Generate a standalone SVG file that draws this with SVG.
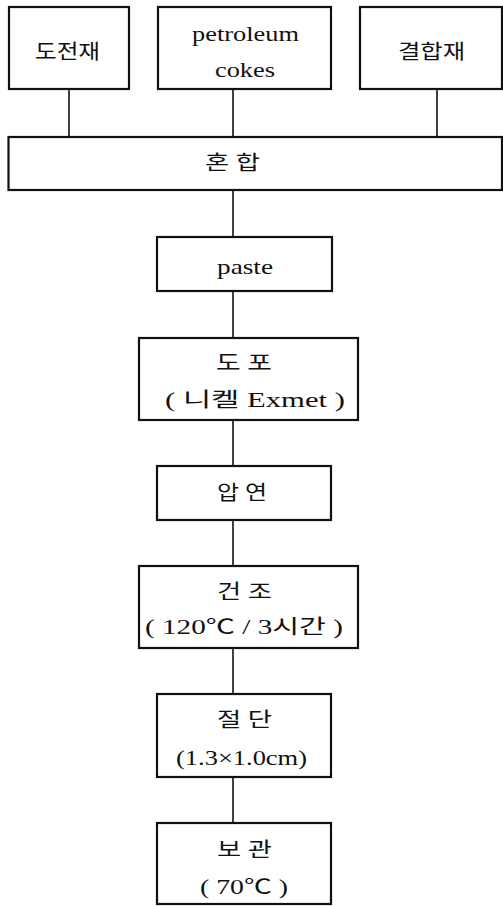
<svg xmlns="http://www.w3.org/2000/svg" width="503" height="906" viewBox="0 0 503 906">
  <style>
    .box { fill: #fff; stroke: #111; stroke-width: 2.2; }
    .wire { fill: none; stroke: #111; stroke-width: 1.6; }
    text { font-family: "Liberation Serif", "Noto Sans CJK KR", serif; font-size: 20px; fill: #111; text-anchor: middle; dominant-baseline: central; }
    .lat { font-size: 22px; }
  </style>
  <rect width="503" height="906" fill="#fff"/>

  <!-- connectors -->
  <g id="connectors">
    <line class="wire" x1="69" y1="89" x2="69" y2="137"/>
    <line class="wire" x1="233" y1="89" x2="233" y2="137"/>
    <line class="wire" x1="437" y1="89" x2="437" y2="137"/>
    <line class="wire" x1="233" y1="190" x2="233" y2="237"/>
    <line class="wire" x1="233" y1="291" x2="233" y2="338"/>
    <line class="wire" x1="233" y1="420" x2="233" y2="466"/>
    <line class="wire" x1="233" y1="520" x2="233" y2="566"/>
    <line class="wire" x1="233" y1="648" x2="233" y2="694"/>
    <line class="wire" x1="233" y1="777" x2="233" y2="823"/>
  </g>

  <!-- raw materials -->
  <g id="conductor">
    <rect class="box" x="9" y="7" width="120" height="82"/>
    <text x="67.5" y="52" textLength="65" lengthAdjust="spacingAndGlyphs">도전재</text>
  </g>
  <g id="coke">
    <rect class="box" x="158" y="7" width="173" height="82"/>
    <text class="lat" x="245.5" y="33" textLength="107" lengthAdjust="spacingAndGlyphs">petroleum</text>
    <text class="lat" x="245" y="69" textLength="60" lengthAdjust="spacingAndGlyphs">cokes</text>
  </g>
  <g id="binder">
    <rect class="box" x="360" y="7" width="142" height="82"/>
    <text x="431.5" y="52" textLength="67" lengthAdjust="spacingAndGlyphs">결합재</text>
  </g>

  <!-- process steps -->
  <g id="mixing">
    <rect class="box" x="8.5" y="137" width="493.5" height="53"/>
    <text x="232.5" y="163" textLength="55" lengthAdjust="spacingAndGlyphs">혼 합</text>
  </g>
  <g id="paste">
    <rect class="box" x="157" y="237" width="175" height="54"/>
    <text class="lat" x="245" y="266" textLength="56" lengthAdjust="spacingAndGlyphs">paste</text>
  </g>
  <g id="coating">
    <rect class="box" x="139" y="338" width="219" height="82"/>
    <text x="244" y="363" textLength="56" lengthAdjust="spacingAndGlyphs">도 포</text>
    <text x="255" y="400" textLength="180" lengthAdjust="spacingAndGlyphs">( 니켈 Exmet )</text>
  </g>
  <g id="rolling">
    <rect class="box" x="157" y="466" width="174" height="54"/>
    <text x="242" y="493" textLength="50" lengthAdjust="spacingAndGlyphs">압 연</text>
  </g>
  <g id="drying">
    <rect class="box" x="139" y="566" width="219" height="82"/>
    <text x="244.5" y="592" textLength="55" lengthAdjust="spacingAndGlyphs">건 조</text>
    <text x="244" y="627" textLength="198" lengthAdjust="spacingAndGlyphs">( 120℃ / 3시간 )</text>
  </g>
  <g id="cutting">
    <rect class="box" x="157" y="694" width="174" height="83"/>
    <text x="244.5" y="720" textLength="55" lengthAdjust="spacingAndGlyphs">절 단</text>
    <text class="lat" x="241.5" y="757" textLength="131" lengthAdjust="spacingAndGlyphs">(1.3×1.0cm)</text>
  </g>
  <g id="storage">
    <rect class="box" x="157" y="823" width="174" height="81"/>
    <text x="244.5" y="850" textLength="55" lengthAdjust="spacingAndGlyphs">보 관</text>
    <text x="244" y="887" textLength="88" lengthAdjust="spacingAndGlyphs">( 70℃ )</text>
  </g>
</svg>
